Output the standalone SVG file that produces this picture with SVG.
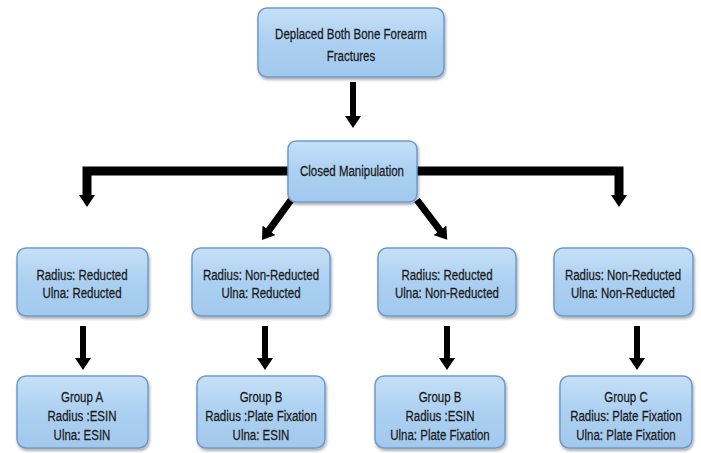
<svg xmlns="http://www.w3.org/2000/svg" width="701" height="453" viewBox="0 0 701 453">
<defs>
<linearGradient id="bg" x1="0" y1="0" x2="0" y2="1">
<stop offset="0" stop-color="#c6e0f7"/>
<stop offset="0.5" stop-color="#abd0f1"/>
<stop offset="1" stop-color="#a2c8ec"/>
</linearGradient>
<filter id="sh" x="-10%" y="-10%" width="125%" height="130%">
<feGaussianBlur in="SourceAlpha" stdDeviation="1.5"/>
<feOffset dx="1" dy="2" result="o"/>
<feComponentTransfer><feFuncA type="linear" slope="0.35"/></feComponentTransfer>
<feMerge><feMergeNode/><feMergeNode in="SourceGraphic"/></feMerge>
</filter>
<marker id="ah" viewBox="0 0 12 16" markerWidth="12" markerHeight="16" refX="2" refY="8" orient="auto" markerUnits="userSpaceOnUse">
<path d="M0,0 L12,8 L0,16 z" fill="#000"/>
</marker>
</defs>
<style>
.box{fill:url(#bg);stroke:#6f9acb;stroke-width:1.5;filter:url(#sh)}
.t{font-family:"Liberation Sans",Arial,sans-serif;font-size:14px;fill:#1a1a1a;stroke:#1a1a1a;stroke-width:0.25;text-anchor:middle}
.c{fill:none;stroke:#000;stroke-linejoin:miter}
</style>
<rect width="701" height="453" fill="#fff"/>
<g id="connectors">
<path class="c" d="M353,82 V118" stroke-width="6" marker-end="url(#ah)"/>
<path class="c" d="M289,171 H87 V197" stroke-width="9" marker-end="url(#ah)"/>
<path class="c" d="M416,171 H619 V197" stroke-width="9" marker-end="url(#ah)"/>
<path class="c" d="M291,200 L267.8,231.9" stroke-width="7" marker-end="url(#ah)"/>
<path class="c" d="M417,200 L441.2,231.9" stroke-width="7" marker-end="url(#ah)"/>
<path class="c" d="M83,326 V360" stroke-width="6" marker-end="url(#ah)"/>
<path class="c" d="M265,326 V360" stroke-width="6" marker-end="url(#ah)"/>
<path class="c" d="M447,326 V360" stroke-width="6" marker-end="url(#ah)"/>
<path class="c" d="M637,326 V360" stroke-width="6" marker-end="url(#ah)"/>
</g>
<g id="n-top">
<rect class="box" x="258" y="8" width="186" height="69" rx="9"/>
<g transform="translate(351,0) scale(0.82,1)">
<text class="t" x="0" y="39">Deplaced Both Bone Forearm</text>
<text class="t" x="0" y="61">Fractures</text>
</g>
</g>
<g id="n-closed">
<rect class="box" x="288" y="141" width="129" height="61" rx="8"/>
<g transform="translate(352,0) scale(0.82,1)">
<text class="t" x="0" y="176">Closed Manipulation</text>
</g>
</g>
<g id="n-m1">
<rect class="box" x="17" y="248" width="131" height="68" rx="9"/>
<g transform="translate(82,0) scale(0.82,1)">
<text class="t" x="0" y="280">Radius: Reducted</text>
<text class="t" x="0" y="298">Ulna: Reducted</text>
</g>
</g>
<g id="n-m2">
<rect class="box" x="192" y="248" width="138" height="68" rx="9"/>
<g transform="translate(261,0) scale(0.82,1)">
<text class="t" x="0" y="280">Radius: Non-Reducted</text>
<text class="t" x="0" y="298">Ulna: Reducted</text>
</g>
</g>
<g id="n-m3">
<rect class="box" x="378" y="248" width="138" height="68" rx="9"/>
<g transform="translate(447,0) scale(0.82,1)">
<text class="t" x="0" y="280">Radius: Reducted</text>
<text class="t" x="0" y="298">Ulna: Non-Reducted</text>
</g>
</g>
<g id="n-m4">
<rect class="box" x="554" y="248" width="139" height="68" rx="9"/>
<g transform="translate(623,0) scale(0.82,1)">
<text class="t" x="0" y="280">Radius: Non-Reducted</text>
<text class="t" x="0" y="298">Ulna: Non-Reducted</text>
</g>
</g>
<g id="n-b1">
<rect class="box" x="17" y="376" width="131" height="72" rx="9"/>
<g transform="translate(82,0) scale(0.82,1)">
<text class="t" x="0" y="402">Group A</text>
<text class="t" x="0" y="421">Radius :ESIN</text>
<text class="t" x="0" y="440">Ulna: ESIN</text>
</g>
</g>
<g id="n-b2">
<rect class="box" x="197" y="376" width="128" height="72" rx="9"/>
<g transform="translate(261,0) scale(0.82,1)">
<text class="t" x="0" y="402">Group B</text>
<text class="t" x="0" y="421">Radius :Plate Fixation</text>
<text class="t" x="0" y="440">Ulna: ESIN</text>
</g>
</g>
<g id="n-b3">
<rect class="box" x="375" y="376" width="130" height="72" rx="9"/>
<g transform="translate(440,0) scale(0.82,1)">
<text class="t" x="0" y="402">Group B</text>
<text class="t" x="0" y="421">Radius :ESIN</text>
<text class="t" x="0" y="440">Ulna: Plate Fixation</text>
</g>
</g>
<g id="n-b4">
<rect class="box" x="560" y="376" width="132" height="72" rx="9"/>
<g transform="translate(626,0) scale(0.82,1)">
<text class="t" x="0" y="402">Group C</text>
<text class="t" x="0" y="421">Radius: Plate Fixation</text>
<text class="t" x="0" y="440">Ulna: Plate Fixation</text>
</g>
</g>
</svg>
